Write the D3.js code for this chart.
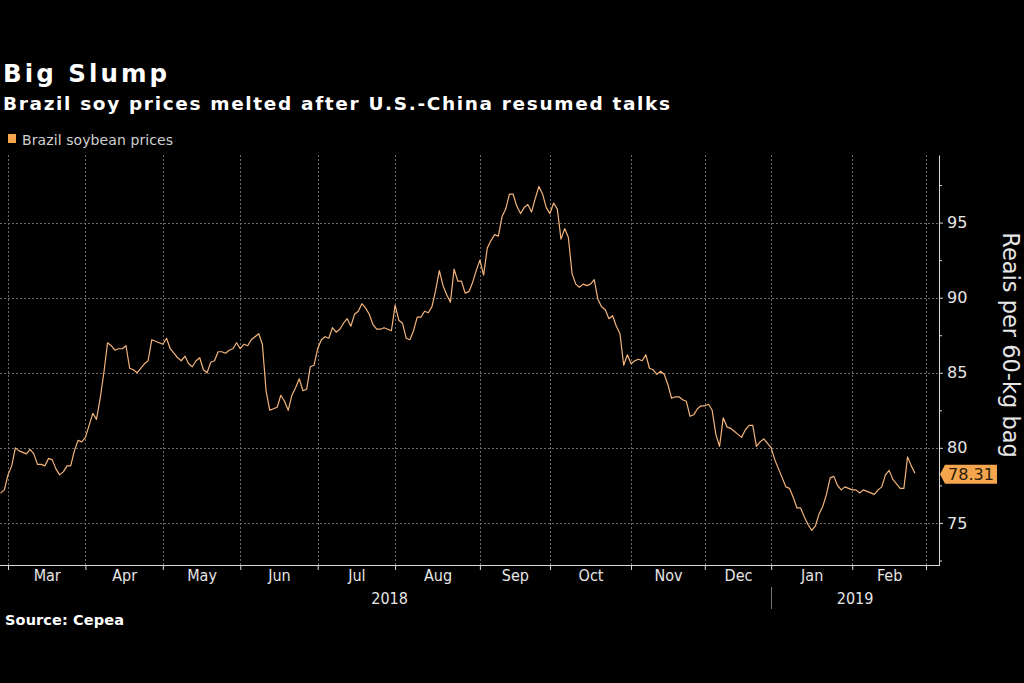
<!DOCTYPE html>
<html>
<head>
<meta charset="utf-8">
<script src="https://cdn.jsdelivr.net/npm/d3@7"></script>
<style>
  html, body { margin: 0; padding: 0; background: #000; }
  svg { display: block; }
</style>
</head>
<body>
<svg id="chart" width="1024" height="683"></svg>
<script>
// ---------------- DATA ----------------
const titleText = "Big Slump";
const subtitleText = "Brazil soy prices melted after U.S.-China resumed talks";
const legendLabel = "Brazil soybean prices";
const sourceText = "Source: Cepea";
const axisTitle = "Reais per 60-kg bag";

// months shown on the x axis and the number of trading days in each
const monthLabels = ["Mar","Apr","May","Jun","Jul","Aug","Sep","Oct","Nov","Dec","Jan","Feb"];
const monthTradingDays = [21,21,21,21,21,23,19,22,20,18,22,20];
const yearLabels = ["2018","2019"];
const yearFirstMonth = [0, 10];

// trading-day index (relative to 1 Mar 2018) of the first price
const firstIndex = -2;
// daily Brazil soybean prices (reais per 60-kg bag)
const prices = [
  77.0, 77.2,
  78.2, 78.8, 80.0, 79.8, 79.7, 79.6, 79.9, 79.6, 78.9, 78.9,
  78.8, 79.3, 79.2, 78.6, 78.2, 78.4, 78.8, 78.8, 79.8, 80.5,
  80.4, 80.7, 81.5, 82.3, 81.9, 83.3, 85.0, 87.0, 86.8, 86.5,
  86.6, 86.6, 86.8, 85.3, 85.2, 85.0, 85.3, 85.6, 85.8, 87.2,
  87.1, 87.0, 86.9, 87.3, 86.6, 86.3, 86.0, 85.8, 86.1, 85.6,
  85.4, 85.8, 86.0, 85.2, 85.0, 85.7, 85.8, 86.4, 86.4, 86.3,
  86.5, 86.6, 87.0, 86.6, 86.9, 86.8, 87.2, 87.4, 87.6, 86.9,
  83.8, 82.5, 82.6, 82.7, 83.5, 83.1, 82.5, 83.5, 84.0, 84.6,
  83.8, 83.9, 85.4, 85.5, 86.6, 87.2, 87.4, 87.3, 88.0, 87.7,
  87.9, 88.3, 88.6, 88.1, 88.9, 89.1, 89.6, 89.3, 88.9, 88.2,
  87.9, 87.9, 88.0, 87.9, 87.8, 89.5, 88.5, 88.3, 87.3, 87.2,
  87.8, 88.7, 88.7, 89.1, 89.0, 89.4, 90.5, 91.8, 90.8, 90.2,
  89.7, 91.9, 91.1, 91.1, 90.3, 90.4, 91.0, 91.8, 92.5, 91.5,
  93.3, 93.8, 94.2, 94.1, 95.4, 95.9, 96.9, 96.9, 96.1, 95.6,
  96.0, 96.2, 95.7, 96.6, 97.4, 96.9, 96.0, 95.6, 96.3, 95.9,
  93.9, 94.6, 94.0, 91.6, 90.9, 90.7, 90.9, 90.8, 90.9, 91.2,
  89.9, 89.4, 89.2, 88.6, 88.8, 88.1, 87.6, 85.5, 86.2, 85.6,
  85.8, 85.9, 85.8, 86.2, 85.3, 85.2, 84.9, 85.1, 84.9, 84.2,
  83.3, 83.4, 83.4, 83.2, 83.1, 82.1, 82.2, 82.6, 82.8, 82.8,
  82.9, 82.5, 80.9, 80.1, 82.0, 81.4, 81.3, 81.1, 80.9, 80.7,
  81.2, 81.5, 81.5, 80.1, 80.4, 80.6, 80.3, 80.0, 79.2, 78.6,
  78.0, 77.4, 77.3, 76.7, 76.0, 76.0, 75.4, 74.9, 74.5, 74.8,
  75.6, 76.1, 76.9, 78.0, 78.1, 77.5, 77.2, 77.4, 77.3, 77.2,
  77.2, 77.0, 77.2, 77.1, 77.0, 76.9, 77.2, 77.4, 78.2, 78.5,
  77.9, 77.6, 77.3, 77.3, 79.4, 78.8, 78.31
];
const lastLabel = "78.31";

const yTicks = [75, 80, 85, 90, 95];
const yMinorTicks = [72.5, 77.5, 82.5, 87.5, 92.5, 97.5];
const yDomain = [72.2, 99.5];

// ---------------- CHART ----------------
const svg = d3.select("#chart");
const W = 1024, H = 683;
svg.append("rect").attr("width", W).attr("height", H).attr("fill", "#000");

const plotLeft = 0, plotRight = 939, plotTop = 155, plotBottom = 565;
const orange = "#f5a54d";
const lineColor = "#f3b47c";
const gridColor = "#6a6a6a";
const axisColor = "#d9d9d9";

// stretch a text's letter spacing so it spans the given width
function fitWidth(sel, target) {
  const node = sel.node();
  const len = node.getComputedTextLength();
  const n = node.textContent.length;
  if (n > 1) sel.attr("letter-spacing", ((target - len) / (n - 1)).toFixed(3));
  return sel;
}

// boundaries (in trading-day index) between months
const boundaries = [0];
monthTradingDays.forEach(d => boundaries.push(boundaries[boundaries.length - 1] + d));
const totalDays = boundaries[boundaries.length - 1];

const x = d3.scaleLinear().domain([0, totalDays]).range([8, 926]);
const y = d3.scaleLinear().domain(yDomain).range([plotBottom, plotTop]);

// Titles
fitWidth(svg.append("text").attr("x", 3).attr("y", 82)
  .attr("fill", "#fff").attr("font-family", "DejaVu Sans").attr("font-weight", "bold")
  .attr("font-size", 24.5).text(titleText), 164);
fitWidth(svg.append("text").attr("x", 3).attr("y", 110)
  .attr("fill", "#fff").attr("font-family", "DejaVu Sans").attr("font-weight", "bold")
  .attr("font-size", 18.5).text(subtitleText), 667);

// Legend
svg.append("rect").attr("x", 8).attr("y", 134).attr("width", 8).attr("height", 9).attr("fill", orange);
fitWidth(svg.append("text").attr("x", 22).attr("y", 145)
  .attr("fill", "#d0d0d0").attr("font-family", "DejaVu Sans").attr("font-size", 14)
  .text(legendLabel), 151);

// Gridlines
const g = svg.append("g");
g.selectAll(".hgrid").data(yTicks).join("line")
  .attr("x1", plotLeft).attr("x2", plotRight)
  .attr("y1", d => Math.round(y(d)) + 0.5).attr("y2", d => Math.round(y(d)) + 0.5)
  .attr("stroke", gridColor).attr("stroke-width", 1).attr("stroke-dasharray", "2,2");
g.selectAll(".vgrid").data(boundaries).join("line")
  .attr("x1", d => Math.round(x(d)) + 0.5).attr("x2", d => Math.round(x(d)) + 0.5)
  .attr("y1", plotTop).attr("y2", plotBottom)
  .attr("stroke", gridColor).attr("stroke-width", 1).attr("stroke-dasharray", "2,2");

// Price line
const line = d3.line()
  .x((d, i) => x(firstIndex + i))
  .y(d => y(d));
svg.append("path").datum(prices)
  .attr("d", line).attr("fill", "none")
  .attr("stroke", lineColor).attr("stroke-width", 1.2).attr("stroke-linejoin", "round");

// Bottom axis: tick marks at month boundaries
const xAxisMarks = d3.axisBottom(x).tickValues(boundaries).tickFormat("").tickSize(5).tickSizeOuter(0);
const gxm = svg.append("g").attr("transform", `translate(0,${plotBottom})`).call(xAxisMarks);
gxm.select(".domain").remove();
gxm.selectAll(".tick line").attr("stroke", axisColor);
svg.append("line").attr("x1", plotLeft).attr("x2", plotRight + 1)
  .attr("y1", plotBottom + 0.5).attr("y2", plotBottom + 0.5)
  .attr("stroke", axisColor).attr("stroke-width", 1);

// Month labels at month midpoints
const mids = monthLabels.map((m, i) => (boundaries[i] + boundaries[i + 1]) / 2);
const xAxisLabels = d3.axisBottom(x).tickValues(mids)
  .tickFormat((d, i) => monthLabels[i]).tickSize(0).tickPadding(5);
const gxl = svg.append("g").attr("transform", `translate(0,${plotBottom})`).call(xAxisLabels);
gxl.select(".domain").remove();
gxl.selectAll("text").attr("fill", "#e6e6e6")
  .attr("font-family", "DejaVu Sans Condensed, DejaVu Sans").attr("font-size", 16);

// Year labels
yearLabels.forEach((lab, i) => {
  const x0 = x(boundaries[yearFirstMonth[i]]);
  const x1 = i < yearLabels.length - 1 ? x(boundaries[yearFirstMonth[i + 1]]) : plotRight;
  svg.append("text").attr("x", (x0 + x1) / 2).attr("y", 604)
    .attr("text-anchor", "middle").attr("fill", "#e6e6e6")
    .attr("font-family", "DejaVu Sans Condensed, DejaVu Sans").attr("font-size", 16).text(lab);
  if (i > 0) {
    svg.append("line").attr("x1", Math.round(x0) + 0.5).attr("x2", Math.round(x0) + 0.5)
      .attr("y1", 587).attr("y2", 609).attr("stroke", "#777").attr("stroke-width", 1);
  }
});

// Right axis
const yAxis = d3.axisRight(y).tickValues(yTicks).tickSize(4).tickPadding(4).tickSizeOuter(0);
const gy = svg.append("g").attr("transform", `translate(${plotRight},0)`).call(yAxis);
gy.select(".domain").attr("stroke", axisColor);
gy.selectAll(".tick line").attr("stroke", axisColor);
gy.selectAll("text").attr("fill", "#e6e6e6").attr("font-family", "DejaVu Sans").attr("font-size", 16);
const yMinor = d3.axisRight(y).tickValues(yMinorTicks).tickSize(3).tickFormat("").tickSizeOuter(0);
const gym = svg.append("g").attr("transform", `translate(${plotRight},0)`).call(yMinor);
gym.select(".domain").remove();
gym.selectAll(".tick line").attr("stroke", axisColor);

// Axis title (rotated)
svg.append("text")
  .attr("transform", `translate(1003,${(plotTop + plotBottom) / 2 - 15}) rotate(90)`)
  .attr("text-anchor", "middle").attr("fill", "#e6e6e6")
  .attr("font-family", "DejaVu Sans").attr("font-size", 22.5).text(axisTitle);

// Last value label
const lastY = y(prices[prices.length - 1]);
const bx = 945, bw = 52, bh = 19;
svg.append("path")
  .attr("d", `M${bx - 5},${lastY + 1} L${bx},${lastY + 1 - bh / 2} L${bx + bw},${lastY + 1 - bh / 2} L${bx + bw},${lastY + 1 + bh / 2} L${bx},${lastY + 1 + bh / 2} Z`)
  .attr("fill", orange);
svg.append("text").attr("x", bx + bw / 2).attr("y", lastY + 7)
  .attr("text-anchor", "middle").attr("fill", "#2a1c0c")
  .attr("font-family", "DejaVu Sans").attr("font-size", 16).text(lastLabel);

// Source
fitWidth(svg.append("text").attr("x", 5).attr("y", 625)
  .attr("fill", "#fff").attr("font-family", "DejaVu Sans").attr("font-weight", "bold")
  .attr("font-size", 14.5).text(sourceText), 119);
</script>
</body>
</html>
